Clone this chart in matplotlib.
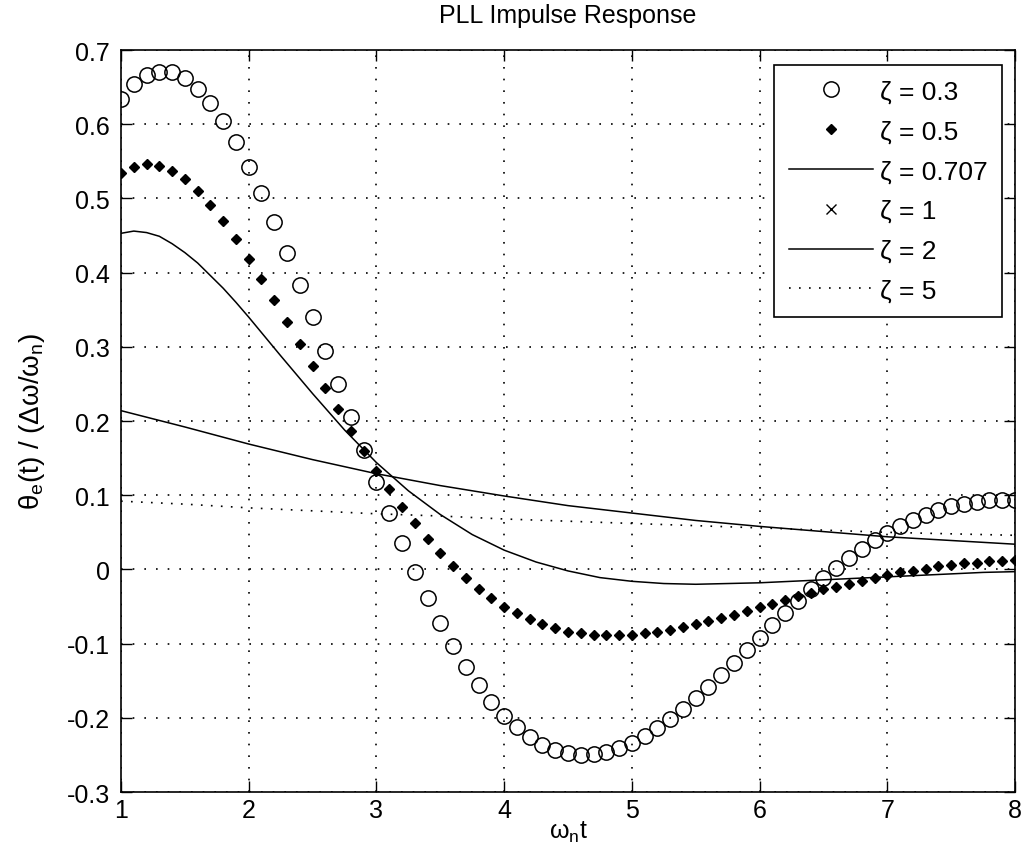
import matplotlib
matplotlib.use("Agg")
import matplotlib.pyplot as plt

# ---------------- data ----------------
t_markers = [1.0, 1.1, 1.2, 1.3, 1.4, 1.5, 1.6, 1.7, 1.8, 1.9,
             2.0, 2.1, 2.2, 2.3, 2.4, 2.5, 2.6, 2.7, 2.8, 2.9,
             3.0, 3.1, 3.2, 3.3, 3.4, 3.5, 3.6, 3.7, 3.8, 3.9,
             4.0, 4.1, 4.2, 4.3, 4.4, 4.5, 4.6, 4.7, 4.8, 4.9,
             5.0, 5.1, 5.2, 5.3, 5.4, 5.5, 5.6, 5.7, 5.8, 5.9,
             6.0, 6.1, 6.2, 6.3, 6.4, 6.5, 6.6, 6.7, 6.8, 6.9,
             7.0, 7.1, 7.2, 7.3, 7.4, 7.5, 7.6, 7.7, 7.8, 7.9, 8.0]

zeta_03 = [0.634, 0.654, 0.666, 0.671, 0.670, 0.662, 0.648, 0.629, 0.604, 0.576,
           0.543, 0.507, 0.468, 0.427, 0.384, 0.340, 0.295, 0.250, 0.205, 0.161,
           0.118, 0.076, 0.036, -0.003, -0.038, -0.072, -0.103, -0.131, -0.156, -0.178,
           -0.197, -0.213, -0.226, -0.236, -0.244, -0.248, -0.250, -0.249, -0.246, -0.241,
           -0.234, -0.224, -0.214, -0.201, -0.188, -0.173, -0.158, -0.142, -0.126, -0.109,
           -0.092, -0.075, -0.059, -0.043, -0.027, -0.012, 0.002, 0.015, 0.028, 0.039,
           0.049, 0.059, 0.067, 0.074, 0.080, 0.085, 0.088, 0.091, 0.093, 0.093, 0.093]

zeta_05 = [0.534, 0.543, 0.546, 0.544, 0.537, 0.526, 0.510, 0.491, 0.469, 0.445,
           0.419, 0.392, 0.363, 0.334, 0.304, 0.274, 0.245, 0.216, 0.187, 0.160,
           0.133, 0.108, 0.084, 0.062, 0.041, 0.022, 0.005, -0.011, -0.026, -0.038,
           -0.050, -0.059, -0.067, -0.074, -0.079, -0.084, -0.086, -0.088, -0.089, -0.089,
           -0.088, -0.086, -0.084, -0.081, -0.078, -0.074, -0.070, -0.065, -0.061, -0.056,
           -0.051, -0.046, -0.041, -0.036, -0.032, -0.027, -0.023, -0.019, -0.015, -0.011,
           -0.008, -0.004, -0.002, 0.001, 0.004, 0.006, 0.008, 0.009, 0.011, 0.012, 0.013]

t_0707 = [1.0, 1.1, 1.2, 1.3, 1.4, 1.5, 1.6, 1.7, 1.8, 1.9,
          2.0, 2.25, 2.5, 2.75, 3.0, 3.25, 3.5, 3.75,
          4.0, 4.25, 4.5, 4.75, 5.0, 5.25, 5.5, 5.75, 6.0, 6.25, 6.5, 6.75,
          7.0, 7.25, 7.5, 7.75, 8.0]
zeta_0707 = [0.453, 0.456, 0.454, 0.449, 0.439, 0.427, 0.413, 0.396, 0.379, 0.360,
             0.340, 0.288, 0.237, 0.188, 0.144, 0.106, 0.074, 0.047,
             0.026, 0.010, -0.002, -0.011, -0.016, -0.019, -0.020, -0.019,
             -0.018, -0.016, -0.014, -0.012, -0.010, -0.008, -0.006, -0.004, -0.003]

t_1 = []
zeta_1 = []

t_over = [1.0, 1.5, 2.0, 2.5, 3.0, 3.5, 4.0, 4.5, 5.0, 5.5, 6.0, 6.5, 7.0, 7.5, 8.0]
zeta_2 = [0.214, 0.192, 0.169, 0.148, 0.129, 0.113, 0.099, 0.086, 0.076, 0.066,
          0.058, 0.051, 0.044, 0.039, 0.034]
zeta_5 = [0.092, 0.088, 0.083, 0.079, 0.075, 0.072, 0.068, 0.065, 0.062, 0.059,
          0.056, 0.053, 0.050, 0.048, 0.046]

labels = ["ζ = 0.3", "ζ = 0.5", "ζ = 0.707", "ζ = 1", "ζ = 2", "ζ = 5"]
x_ticks = [1, 2, 3, 4, 5, 6, 7, 8]
y_ticks = [-0.3, -0.2, -0.1, 0, 0.1, 0.2, 0.3, 0.4, 0.5, 0.6, 0.7]
y_tick_labels = ["-0.3", "-0.2", "-0.1", "0", "0.1", "0.2", "0.3", "0.4", "0.5", "0.6", "0.7"]

# ---------------- style ----------------
plt.rcParams['font.family'] = ['Liberation Sans', 'DejaVu Sans']
plt.rcParams['mathtext.fontset'] = 'custom'
plt.rcParams['mathtext.rm'] = 'Liberation Sans'
plt.rcParams['mathtext.it'] = 'Liberation Sans'

fig = plt.figure(figsize=(10.29, 8.45), dpi=100)
ax = fig.add_axes([0.1176, 0.0615, 0.8688, 0.8781])

ax.plot(t_markers, zeta_03, linestyle='none', marker='o', markersize=11,
        markerfacecolor='none', markeredgecolor='black', markeredgewidth=1.1, label=labels[0])
ax.plot(t_markers, zeta_05, linestyle='none', marker='D', markersize=5.5,
        color='black', label=labels[1])
ax.plot(t_0707, zeta_0707, color='black', linewidth=1.1, label=labels[2])
ax.plot(t_1, zeta_1, linestyle='none', marker='x', markersize=7, color='black',
        markeredgewidth=1.0, label=labels[3])
ax.plot(t_over, zeta_2, color='black', linewidth=1.1, label=labels[4])
ax.plot(t_over, zeta_5, color='black', linewidth=1.2, linestyle=(0, (1, 5)), label=labels[5])

ax.set_xlim(1, 8)
ax.set_ylim(-0.3, 0.7)
ax.set_xticks(x_ticks)
ax.set_yticks(y_ticks)
ax.set_yticklabels(y_tick_labels)
ax.grid(True, color='black', linestyle=(0, (1, 6)), linewidth=1.2)
ax.tick_params(direction='in', top=True, right=True, length=8, width=1.0,
               labelsize=18, colors='black')
ax.tick_params(axis='y', pad=8)
ax.tick_params(axis='x', pad=4)
for sp in ax.spines.values():
    sp.set_linewidth(1.2)

ax.set_title('PLL Impulse Response', fontsize=18, pad=20)
ax.set_xlabel(r'$\mathregular{\omega_n t}$', fontsize=18, labelpad=-2)
ax.set_ylabel('θ$_\\mathregular{e}$(t) / (Δω/ω$_\\mathregular{n}$)', fontsize=20, labelpad=14)

leg = ax.legend(loc='upper right', bbox_to_anchor=(0.9855, 0.9798), fontsize=19,
                frameon=True, fancybox=False, edgecolor='black', framealpha=1,
                handlelength=3.2, handletextpad=0.25, labelspacing=0.6,
                borderpad=0.55, borderaxespad=0.0, numpoints=1)
leg.get_frame().set_linewidth(1.2)

fig.savefig('out.png', dpi=100)
